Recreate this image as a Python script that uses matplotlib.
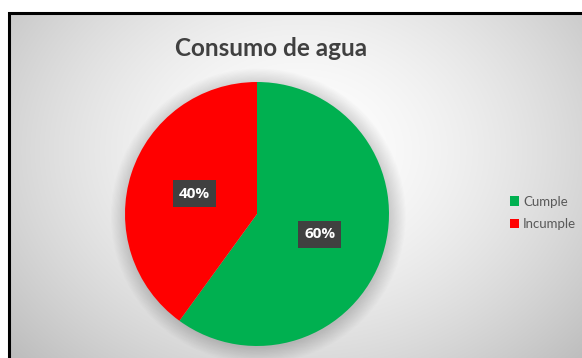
import numpy as np
import matplotlib.pyplot as plt
from matplotlib.patches import Patch, Circle

categories = ["Cumple", "Incumple"]
values = [60, 40]
colors = ["#00B050", "#FF0000"]
title = "Consumo de agua"

W, H = 582, 358
fig = plt.figure(figsize=(W / 100, H / 100), dpi=100)
fig.patch.set_facecolor("white")

# --- background: radial gradient inside the chart frame ---
bg = fig.add_axes([0, 0, 1, 1])
bg.set_xlim(0, W)
bg.set_ylim(H, 0)
bg.axis("off")
yy, xx = np.mgrid[13:H, 9:W]
r = np.hypot((xx - 300) / 330, (yy - 150) / 260)
shade = 1 - 0.2 * np.clip(r, 0, 1.2) ** 1.6
img = np.dstack([shade] * 3)
bg.imshow(img, extent=(9, W, H, 13), aspect="auto", zorder=0)
bg.plot([9, 9, W], [H, 13, 13], color="black", lw=2.2, zorder=2,
        solid_joinstyle="miter")

# --- pie ---
cx, cy, rad = 257, 214, 132
ax = fig.add_axes([(cx - rad) / W, (H - cy - rad) / H, 2 * rad / W, 2 * rad / H])
ax.set_xlim(-1, 1)
ax.set_ylim(-1, 1)
ax.axis("off")

# soft shadow behind the pie
for i in range(14):
    ax.add_patch(Circle((0.01, -0.015), 1 + 0.009 * i, color="black",
                        alpha=0.012, lw=0, zorder=0, clip_on=False))

wedges, texts, autotexts = ax.pie(
    values, colors=colors, startangle=90, counterclock=False,
    radius=1, autopct="%d%%", pctdistance=0.5,
    wedgeprops=dict(linewidth=0, zorder=1),
    textprops=dict(color="white", fontsize=11, fontweight="bold", family="Open Sans"))
for t in autotexts:
    t.set_bbox(dict(boxstyle="square,pad=0.4", facecolor="#404040", edgecolor="none"))
    t.set_zorder(3)
ax.set_xlim(-1, 1)
ax.set_ylim(-1, 1)

fig.text(271 / W, 1 - 49 / H, title, ha="center", va="center",
         fontsize=17.5, fontweight="bold", color="#404040", family="Lato")

handles = [Patch(facecolor=c, edgecolor="none") for c in colors]
fig.legend(handles, categories, loc="center left", bbox_to_anchor=(510 / W, 1 - 213 / H),
           frameon=False, labelcolor="#595959", handlelength=0.7,
           handleheight=0.7, handletextpad=0.3, labelspacing=0.8,
           borderpad=0, borderaxespad=0, prop=dict(family="Lato", size=9.5))

fig.savefig("out.png", dpi=100)
